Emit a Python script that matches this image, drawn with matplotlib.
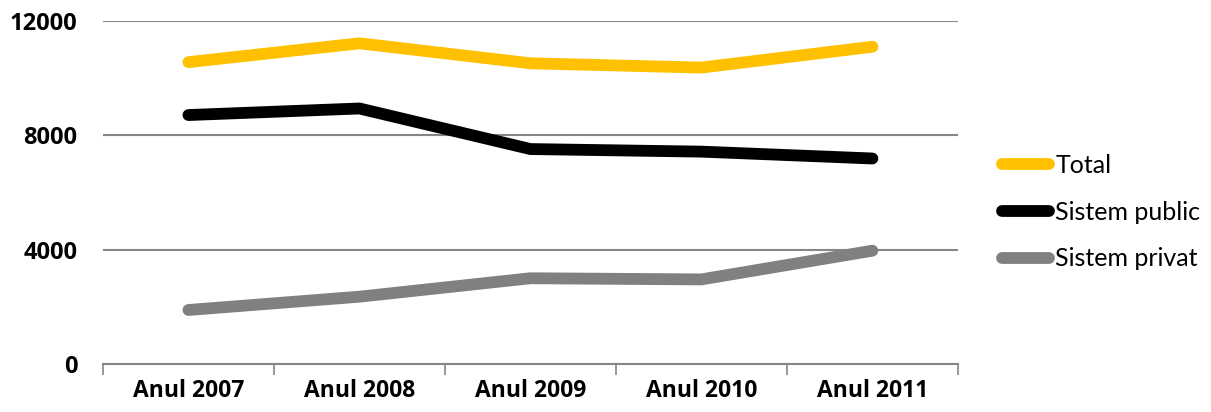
import matplotlib
matplotlib.use("Agg")
import matplotlib.pyplot as plt
import numpy as np

categories = ["Anul 2007", "Anul 2008", "Anul 2009", "Anul 2010", "Anul 2011"]
total = [10560, 11220, 10520, 10370, 11100]
sistem_public = [8710, 8940, 7520, 7430, 7190]
sistem_privat = [1890, 2355, 3000, 2960, 3965]
series_names = ["Total", "Sistem public", "Sistem privat"]
colors = ["#FFC000", "#000000", "#808080"]

fig = plt.figure(figsize=(12.11, 4.12), dpi=100)
ax = fig.add_axes([0.085, 0.1165, 0.706, 0.8325])

x = np.arange(len(categories))
for vals, name, c in zip([total, sistem_public, sistem_privat], series_names, colors):
    ax.plot(x, vals, color=c, lw=8.5, solid_capstyle="round", solid_joinstyle="miter", label=name)

ax.set_xlim(-0.5, len(categories) - 0.5)
ax.set_ylim(0, 12000)
ax.set_yticks([0, 4000, 8000, 12000])
ax.set_yticklabels(["0", "4000", "8000", "12000"], fontfamily="Open Sans", fontweight="bold", fontsize=17)
ax.yaxis.grid(True, color="#868686", lw=1.5)
ax.set_axisbelow(True)
ax.tick_params(axis="y", length=0, pad=18.5)

ax.set_xticks(np.arange(-0.5, len(categories), 1.0))
ax.set_xticklabels([])
ax.tick_params(axis="x", which="major", length=8, width=1.2, color="#868686", direction="out")
ax.set_xticks(x, minor=True)
ax.set_xticklabels(categories, minor=True, fontfamily="Open Sans", fontweight="bold", fontsize=16.5)
ax.tick_params(axis="x", which="minor", length=0, pad=11)

for s in ["top", "right", "left"]:
    ax.spines[s].set_visible(False)
ax.spines["bottom"].set_color("#868686")
ax.spines["bottom"].set_linewidth(1.5)

leg = fig.legend(loc="center left", bbox_to_anchor=(0.8085, 0.485), frameon=False,
                 handlelength=1.9, handletextpad=0.25, labelspacing=0.95,
                 prop={"family": "Lato", "size": 18})
for h in leg.legend_handles:
    h.set_linewidth(8.5)
    h.set_solid_capstyle("round")

fig.savefig("out.png", dpi=100)
